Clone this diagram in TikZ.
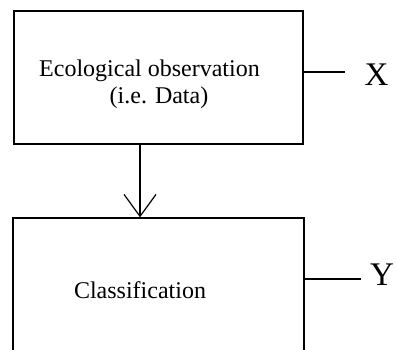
\documentclass[tikz,border=0pt]{standalone}
\usepackage{fontspec}
\setmainfont{Liberation Serif}
\usetikzlibrary{arrows.meta}

\tikzset{
  box/.style={draw,black,line width=1.2pt,inner sep=0pt},
  txt/.style={anchor=base,inner sep=0pt,font=\fontsize{24}{27}\selectfont},
  var/.style={anchor=base,inner sep=0pt,font=\fontsize{33}{36}\selectfont},
  link/.style={black,line width=1.2pt},
  arr/.style={black,line width=1.2pt,-{Straight Barb[length=22pt,width=32pt,line width=1.2pt]}}
}

\begin{document}
\begin{tikzpicture}[x=1pt,y=-1pt]
\useasboundingbox (0,0) rectangle (396,349);
\node[box,minimum width=289pt,minimum height=133pt] (obs) at (158.5,77.5) {};
\node[box,minimum width=291pt,minimum height=180pt] (cls) at (158.5,308) {};
\node[txt] (obstext) at (149.5,76) {Ecological observation};
\node[txt] (datatext) at (159,103) {(i.e. Data)};
\node[txt] (clstext) at (140,298) {Classification};
\node[var] (X) at (376.5,85) {X};
\node[var] (Y) at (382,285) {Y};
\draw[arr] (obs.south -| clstext) -- (cls.north -| clstext);
\draw[link] (obs.east |- 0,72) -- ([xshift=-19pt]X.west |- 0,72);
\draw[link] (cls.east |- 0,279) -- ([xshift=-9pt]Y.west |- 0,279);
\end{tikzpicture}
\end{document}
